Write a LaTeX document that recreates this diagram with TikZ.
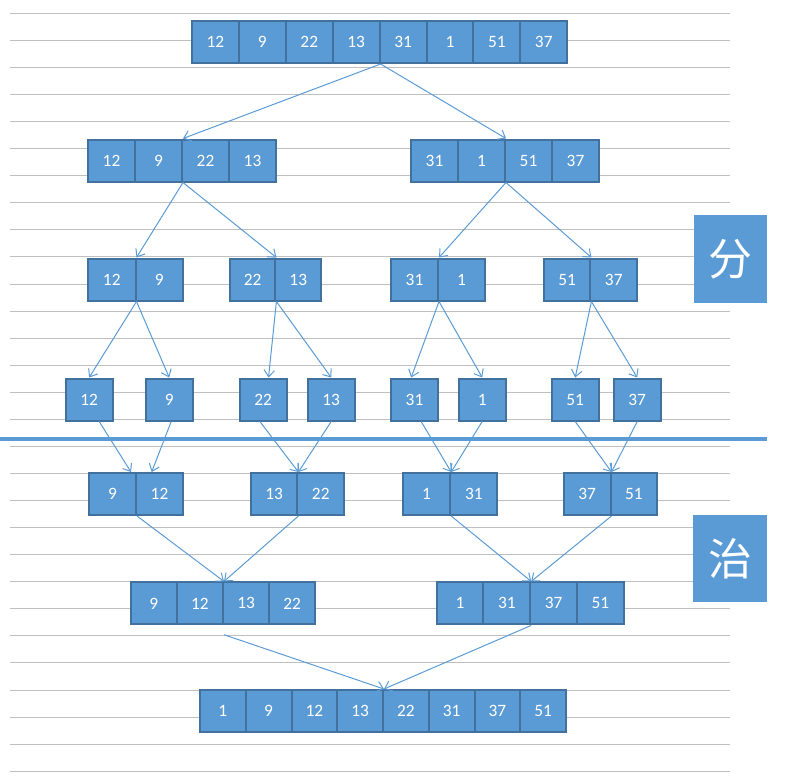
\documentclass[tikz,border=0pt]{standalone}
\usepackage{fontspec}
\setmainfont{Carlito}
\newfontfamily\cjk{Noto Sans CJK SC}
\usetikzlibrary{
    arrows.meta
}
\definecolor{CellBlue}{RGB}{91,155,213}
\definecolor{CellEdge}{RGB}{65,113,156}
\definecolor{RuleGray}{RGB}{191,191,191}

\begin{document}
\begin{tikzpicture}[
            x=0.75pt,
            y=-0.75pt,
            >={Straight Barb[length=5pt,width=8pt]},
            cell/.style={draw=CellEdge, fill=CellBlue, line width=1.5pt, text=white,
                minimum height=31.5pt, inner sep=0pt, font=\fontsize{13}{15}\selectfont},
            link/.style={->, CellBlue, line width=0.75pt},
            tag/.style={fill=CellBlue, text=white, inner sep=0pt,
                font=\cjk\fontsize{33}{33}\selectfont},
        ]
        \useasboundingbox (0,0) rectangle (810,776);

        % Ruled background
        \foreach \k in {0,...,28} {
            \draw[RuleGray, line width=0.75pt] (10,{13.3+27.07*\k}) -- (730,{13.3+27.07*\k});
        }

        % Divide / conquer separator
        \draw[CellBlue, line width=3pt] (0,438.5) -- (767,438.5);

        % Row of cells: name, left x, centre y, cell width, values
        \def\cellrow#1#2#3#4#5{%
            \foreach \v [count=\i] in {#5} {
                \node[cell, minimum width=#4*0.75pt] (#1-\i) at ({#2+(\i-0.5)*#4},#3) {\v};
            }
        }

        % Divide
        \cellrow{top}{192}{42}{46.9}{12,9,22,13,31,1,51,37}
        \cellrow{la}{88}{160.5}{47}{12,9,22,13}
        \cellrow{ra}{411}{160.5}{47}{31,1,51,37}
        \cellrow{lb}{88}{279.5}{47.5}{12,9}
        \cellrow{mb}{229.7}{279.5}{45.7}{22,13}
        \cellrow{nb}{391}{279.5}{47}{31,1}
        \cellrow{rb}{543.7}{279.5}{46.7}{51,37}

        % Single cells
        \foreach \v/\x [count=\i] in {12/65.7,9/145.7,22/239.7,13/307.7,31/391,1/458.7,51/551.7,37/613.7} {
            \node[cell, minimum width=47*0.75pt] (c\i) at ({\x+23.5},399.5) {\v};
        }

        % Conquer
        \cellrow{ld}{89}{494}{47}{9,12}
        \cellrow{md}{250.7}{494}{46.7}{13,22}
        \cellrow{nd}{403}{494}{47.2}{1,31}
        \cellrow{rd}{563.7}{494}{46.8}{37,51}
        \cellrow{le}{130.7}{603.4}{46.15}{9,12,13,22}
        \cellrow{re}{436.6}{603.4}{46.8}{1,31,37,51}
        \cellrow{all}{200}{711}{45.75}{1,9,12,13,22,31,37,51}

        % Side tags
        \node[tag, minimum width=73*0.75pt, minimum height=87.7*0.75pt] (fen) at (730.5,258.8) {分};
        \node[tag, minimum width=73.7*0.75pt, minimum height=86.7*0.75pt] (zhi) at (730.2,558.3) {治};

        % Split arrows
        \draw[link] (top-4.south east) -- (la-2.north east);
        \draw[link] (top-4.south east) -- (ra-2.north east);
        \draw[link] (la-2.south east) -- (lb-1.north east);
        \draw[link] (la-2.south east) -- (mb-1.north east);
        \draw[link] (ra-2.south east) -- (nb-1.north east);
        \draw[link] (ra-2.south east) -- (rb-1.north east);
        \draw[link] (lb-1.south east) -- (c1.north);
        \draw[link] (lb-1.south east) -- (c2.north);
        \draw[link] (mb-1.south east) -- ([xshift=4pt]c3.north);
        \draw[link] (mb-1.south east) -- (c4.north);
        \draw[link] (nb-1.south east) -- ([xshift=-2.5pt]c5.north);
        \draw[link] (nb-1.south east) -- (c6.north);
        \draw[link] (rb-1.south east) -- (c7.north);
        \draw[link] (rb-1.south east) -- (c8.north);

        % Merge arrows
        \draw[link] ([xshift=7.5pt]c1.south) -- ([xshift=-4.5pt]ld-1.north east);
        \draw[link] ([xshift=1.5pt]c2.south) -- ([xshift=11pt]ld-1.north east);
        \draw[link] ([xshift=-2.5pt]c3.south) -- (md-1.north east);
        \draw[link] (c4.south) -- (md-1.north east);
        \draw[link] ([xshift=5pt]c5.south) -- (nd-1.north east);
        \draw[link] (c6.south) -- (nd-1.north east);
        \draw[link] (c7.south) -- (rd-1.north east);
        \draw[link] (c8.south) -- (rd-1.north east);
        \draw[link] (ld-1.south east) -- (le-2.north east);
        \draw[link] (md-1.south east) -- (le-2.north east);
        \draw[link] (nd-1.south east) -- (re-2.north east);
        \draw[link] (rd-1.south east) -- (re-2.north east);
        \draw[link] ([yshift=-7pt]le-2.south east) -- (all-4.north east);
        \draw[link] (re-2.south east) -- (all-4.north east);
        \end{tikzpicture}
\end{document}
